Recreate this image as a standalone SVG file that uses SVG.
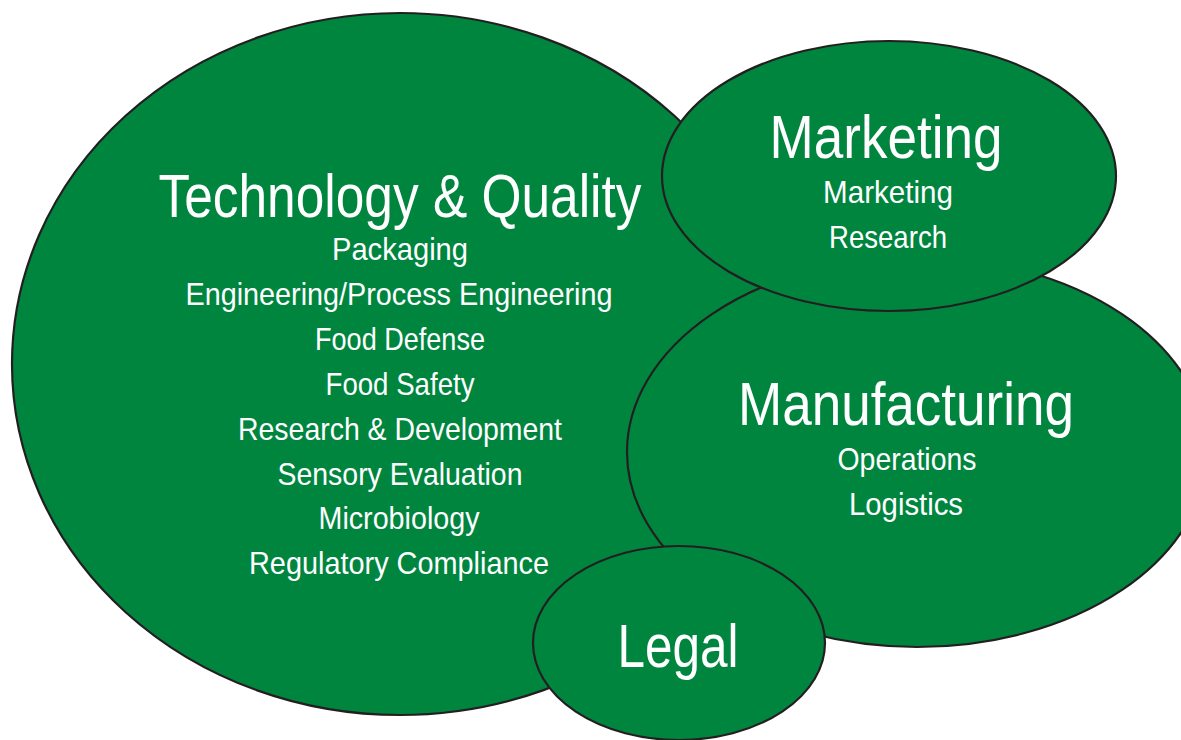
<svg xmlns="http://www.w3.org/2000/svg" width="1181" height="740" viewBox="0 0 1181 740">
<style>
.bub{fill:#00853F;stroke:#231F20;stroke-width:2.2}
text{fill:#ffffff;font-family:"Liberation Sans",Arial,sans-serif;text-anchor:middle}
.t{font-size:62px}
.s{font-size:32px}
</style>
<rect width="1181" height="740" fill="#ffffff"/>
<g id="tech">
<ellipse class="bub" cx="400" cy="364" rx="388" ry="351"/>
<text class="t" x="400" y="217" textLength="483" lengthAdjust="spacingAndGlyphs">Technology &amp; Quality</text>
<text class="s" x="400" y="260" textLength="136" lengthAdjust="spacingAndGlyphs">Packaging</text>
<text class="s" x="399" y="305" textLength="427" lengthAdjust="spacingAndGlyphs">Engineering/Process Engineering</text>
<text class="s" x="400" y="350" textLength="170" lengthAdjust="spacingAndGlyphs">Food Defense</text>
<text class="s" x="400" y="395" textLength="149" lengthAdjust="spacingAndGlyphs">Food Safety</text>
<text class="s" x="400" y="440" textLength="324" lengthAdjust="spacingAndGlyphs">Research &amp; Development</text>
<text class="s" x="400" y="485" textLength="245" lengthAdjust="spacingAndGlyphs">Sensory Evaluation</text>
<text class="s" x="399" y="529" textLength="161" lengthAdjust="spacingAndGlyphs">Microbiology</text>
<text class="s" x="399" y="574" textLength="300" lengthAdjust="spacingAndGlyphs">Regulatory Compliance</text>
</g>
<g id="manufacturing">
<ellipse class="bub" cx="917" cy="452" rx="290" ry="195"/>
<text class="t" x="906" y="425" textLength="336" lengthAdjust="spacingAndGlyphs">Manufacturing</text>
<text class="s" x="907" y="470" textLength="139" lengthAdjust="spacingAndGlyphs">Operations</text>
<text class="s" x="906" y="515" textLength="114" lengthAdjust="spacingAndGlyphs">Logistics</text>
</g>
<g id="marketing">
<ellipse class="bub" cx="889" cy="176" rx="227" ry="135"/>
<text class="t" x="886" y="158" textLength="233" lengthAdjust="spacingAndGlyphs">Marketing</text>
<text class="s" x="888" y="203" textLength="130" lengthAdjust="spacingAndGlyphs">Marketing</text>
<text class="s" x="888" y="248" textLength="118" lengthAdjust="spacingAndGlyphs">Research</text>
</g>
<g id="legal">
<ellipse class="bub" cx="679" cy="643" rx="146" ry="97"/>
<text class="t" x="678" y="667" textLength="121" lengthAdjust="spacingAndGlyphs">Legal</text>
</g>
<g id="connectors"/>
</svg>
